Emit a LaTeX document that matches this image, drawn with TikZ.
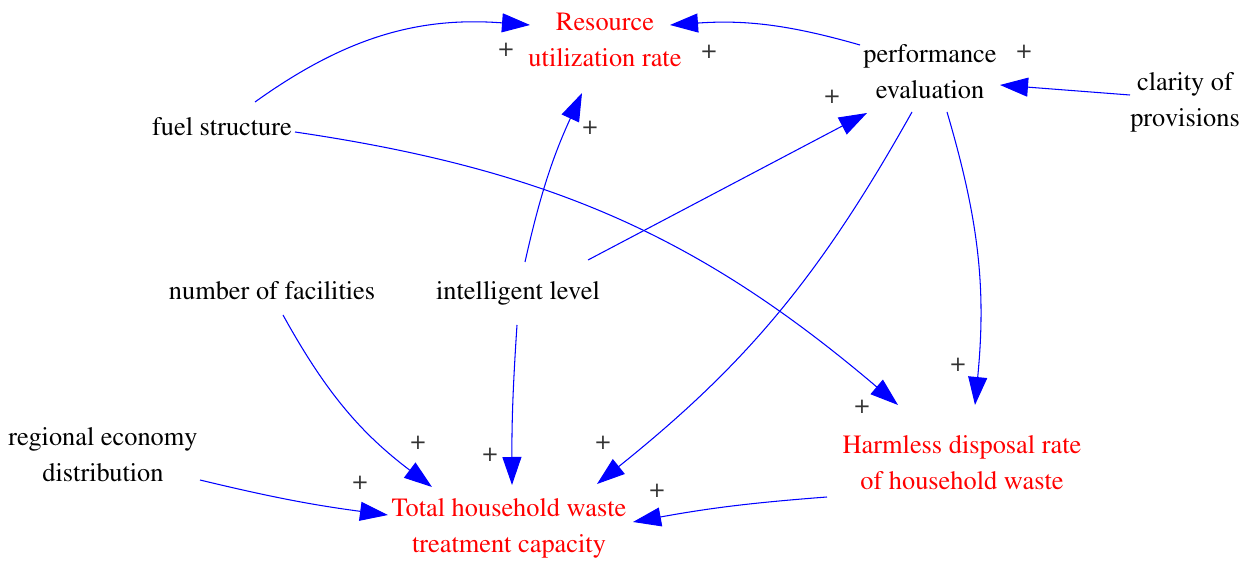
\documentclass[tikz,border=0pt]{standalone}
\usepackage[T1]{fontenc}
\renewcommand{\rmdefault}{ptm}
\usetikzlibrary{arrows.meta}

\tikzset{
    var/.style={font=\rmfamily\fontsize{15}{20.5}\selectfont, align=center, inner sep=1pt},
    level/.style={var, text=red},
    link/.style={blue, line width=0.6pt, -{Triangle[length=5.6mm, width=3.8mm]}},
    sign/.style={font=\rmfamily\fontsize{15}{15}\selectfont, text=black!80, inner sep=0pt}
}

\begin{document}
\begin{tikzpicture}
    \useasboundingbox (0, 0) rectangle (25.02, -11.24);

    % variables
    \node[level] at (12.1, -0.8) (res) {Resource\\utilization rate};
    \node[var] at (18.6, -1.44) (perf) {performance\\evaluation};
    \node[var] at (23.7, -2.04) (clar) {clarity of\\provisions};
    \node[var] at (4.44, -2.54) (fuel) {fuel structure};
    \node[var] at (5.44, -5.82) (fac) {number of facilities};
    \node[var] at (10.36, -5.86) (intel) {intelligent level};
    \node[var] at (2.06, -9.1) (reg) {regional economy\\distribution};
    \node[level] at (10.18, -10.56) (total) {Total household waste\\treatment capacity};
    \node[level] at (19.24, -9.26) (harm) {Harmless disposal rate\\of household waste};

    % causal links
    \draw[link] ([shift={(0.66, 0.5)}]fuel.center) to[bend left=20] ([shift={(-1.5, 0.3)}]res.center);
    \draw[link] ([shift={(-1.4, 0.54)}]perf.center) to[bend right=10] ([shift={(1.3, 0.3)}]res.center);
    \draw[link] ([shift={(-1.1, 0.14)}]clar.center) -- ([shift={(1.4, -0.26)}]perf.center);
    \draw[link] ([shift={(0.14, 0.62)}]intel.center) to[bend left=6] ([shift={(-0.46, -1.06)}]res.center);
    \draw[link] ([shift={(1.4, 0.66)}]intel.center) -- ([shift={(-1.26, -0.82)}]perf.center);
    \draw[link] ([shift={(1.46, -0.1)}]fuel.center) to[bend left=16] ([shift={(-1.28, 1.16)}]harm.center);
    \draw[link] ([shift={(-0.36, -0.8)}]perf.center) to[bend left=11] ([shift={(1.76, 0.88)}]total.center);
    \draw[link] ([shift={(0.34, -0.8)}]perf.center) to[bend left=11] ([shift={(0.26, 1.16)}]harm.center);
    \draw[link] ([shift={(0.22, -0.48)}]fac.center) to[bend right=12] ([shift={(-1.54, 0.82)}]total.center);
    \draw[link] ([shift={(-0.02, -0.64)}]intel.center) to[bend right=2] ([shift={(0.06, 0.86)}]total.center);
    \draw[link] ([shift={(1.94, -0.5)}]reg.center) to[bend right=3] ([shift={(-2.42, 0.26)}]total.center);
    \draw[link] ([shift={(-2.7, -0.68)}]harm.center) to[bend right=3] ([shift={(2.48, 0.12)}]total.center);

    % polarities
    \node[sign] at (10.12, -1.0) (s1) {+};
    \node[sign] at (14.18, -1.04) (s2) {+};
    \node[sign] at (11.8, -2.56) (s3) {+};
    \node[sign] at (20.48, -1.04) (s4) {+};
    \node[sign] at (16.64, -1.94) (s5) {+};
    \node[sign] at (19.16, -7.3) (s6) {+};
    \node[sign] at (17.24, -8.14) (s7) {+};
    \node[sign] at (8.36, -8.86) (s8) {+};
    \node[sign] at (9.8, -9.1) (s9) {+};
    \node[sign] at (12.06, -8.86) (s10) {+};
    \node[sign] at (7.2, -9.66) (s11) {+};
    \node[sign] at (13.14, -9.82) (s12) {+};
\end{tikzpicture}
\end{document}
